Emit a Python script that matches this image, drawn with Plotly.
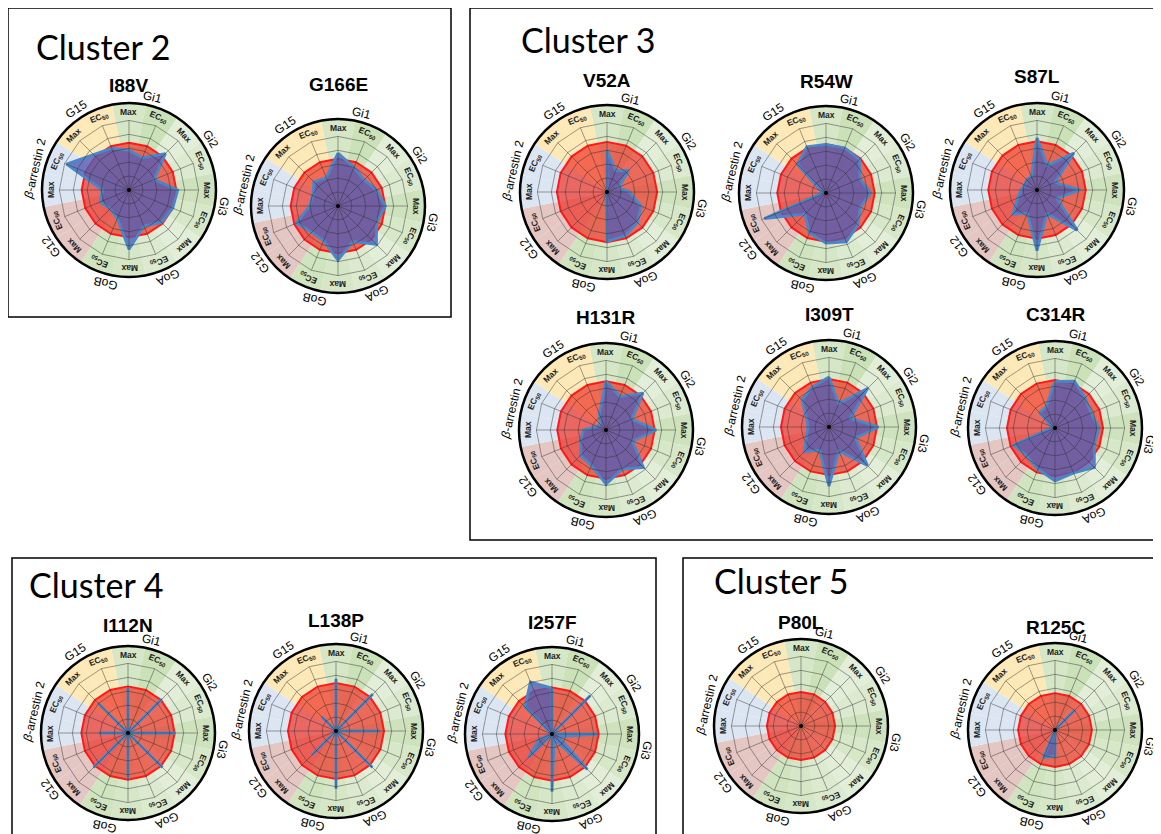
import math
import plotly.graph_objects as go

# page body keeps an 8 px margin, so the figure is shifted by OFF
OFF = 8
W, H = 1161 - OFF, 834 - OFF

# spoke order, clockwise from 12 o'clock
spoke_labels = ["Max", "EC<sub>50</sub>"] * 8
receptors = ["Gi1", "Gi2", "Gi3", "GoA", "GoB", "G12", "<i>β</i>-arrestin 2", "G15"]

mutants = ["I88V", "G166E", "V52A", "R54W", "S87L", "H131R", "I309T", "C314R",
           "I112N", "L138P", "I257F", "P80L", "R125C"]

# WT reference level (red polygon) per panel
wt_level = [68, 68, 72, 70, 70, 70, 69, 69, 67, 69, 67, 49, 53]

# mutant values per spoke (Gi1 Max, Gi1 EC50, Gi2 Max, ... G15 EC50)
I88V = [57, 50, 74, 39, 70, 68, 66, 56, 85, 44, 38, 45, 38, 97, 72, 65]
G166E = [76, 60, 53, 60, 68, 60, 78, 55, 78, 54, 53, 65, 41, 39, 49, 44]
V52A = [60, 33, 44, 18, 32, 53, 62, 68, 71, 4, 0, 0, 0, 0, 0, 0]
R54W = [70, 70, 68, 53, 64, 53, 65, 76, 72, 62, 43, 96, 5, 8, 58, 72]
S87L = [75, 38, 75, 28, 62, 31, 82, 37, 87, 36, 49, 30, 23, 19, 21, 21]
H131R = [70, 52, 75, 40, 72, 41, 76, 61, 78, 55, 52, 40, 32, 14, 12, 25]
I309T = [72, 36, 79, 33, 71, 41, 78, 37, 85, 36, 50, 35, 30, 35, 55, 62]
C314R = [67, 73, 61, 56, 63, 61, 80, 70, 76, 64, 57, 64, 5, 5, 31, 33]
I112N = [65, 0, 69, 0, 68, 0, 70, 0, 66, 0, 70, 0, 42, 0, 61, 0]
L138P = [75, 0, 75, 0, 63, 0, 74, 0, 83, 0, 49, 0, 0, 0, 29, 0]
I257F = [66, 0, 78, 0, 65, 10, 72, 8, 83, 0, 48, 20, 0, 0, 55, 81]
P80L = [0] * 16
R125C = [0, 0, 40, 0, 0, 0, 0, 0, 37, 43, 0, 0, 0, 0, 0, 0]

mutant_values = [I88V, G166E, V52A, R54W, S87L, H131R, I309T, C314R,
                 I112N, L138P, I257F, P80L, R125C]

ring_levels = [20, 40, 60, 80, 100]

# ---- layout: panel centre x, centre y, title y (page px)
centers = {
    "I88V": (129, 190, 86), "G166E": (338, 206, 85),
    "V52A": (607, 192, 80), "R54W": (826, 193, 81), "S87L": (1037, 190, 77),
    "H131R": (606, 430, 318), "I309T": (829, 427, 314), "C314R": (1055, 428, 314),
    "I112N": (128, 733, 625), "L138P": (336, 731, 620), "I257F": (552, 734, 622),
    "P80L": (801, 726, 622), "R125C": (1055, 730, 627),
}

clusters = [
    ("Cluster 2", 8, 8, 451, 317, 34, 46),
    ("Cluster 3", 470, 8, 1160, 540, 519, 39),
    ("Cluster 4", 12, 558, 656, 850, 27, 584),
    ("Cluster 5", 683, 558, 1160, 850, 712, 580),
]

wedge_colors = ["#d5e7c6", "#cbe1b8", "#e3eed9", "#dcead0", "#cee3bd", "#d7e8c8",
                "#e3eed9", "#dcead0", "#d5e7c6", "#cfe4bf", "#e4c6c3", "#e4c6c3",
                "#dce6f2", "#dce6f2", "#fde9b7", "#fde9b7"]
receptor_angles = [14, 58, 100, 156, 194, 234, 283, 327]

R_PX = 87
R_MAX = 125
LBL_IN = 78
LBL_OUT = 96
FONT = "Liberation Sans, Arial, sans-serif"

angles = [i * 22.5 for i in range(16)]
closed = angles + [360]


def px_to_paper(x, y):
    return (x - OFF) / W, 1 - (y - OFF) / H


def tangent_angle(a):
    return a if a <= 180 else a - 360


fig = go.Figure()
annotations = []
layout_polars = {}

for k, name in enumerate(mutants):
    cx, cy, ty = centers[name]
    sub = "polar" if k == 0 else f"polar{k + 1}"
    vals = mutant_values[k]

    fig.add_trace(go.Barpolar(r=[R_MAX] * 16, theta=angles, width=[22.5] * 16,
                              marker=dict(color=wedge_colors, line=dict(width=0)),
                              subplot=sub, hoverinfo="skip", showlegend=False))

    fig.add_trace(go.Scatterpolar(r=[wt_level[k]] * 17, theta=closed, mode="lines",
                                  fill="toself", fillcolor="rgba(240,50,38,0.70)",
                                  line=dict(color="#ff1a1a", width=2),
                                  subplot=sub, hoverinfo="skip", showlegend=False))

    if any(vals):
        fig.add_trace(go.Scatterpolar(r=vals + [vals[0]], theta=closed, mode="lines",
                                      fill="toself", fillcolor="rgba(82,92,180,0.80)",
                                      line=dict(color="#4a86c8", width=2.8),
                                      subplot=sub, name=name, showlegend=False))

    # grid rings and spokes on top
    ring_r, ring_t = [], []
    for lev in ring_levels:
        ring_r += [lev] * 17 + [None]
        ring_t += closed + [None]
    spoke_r, spoke_t = [], []
    for a in angles:
        spoke_r += [0, ring_levels[-1], None]
        spoke_t += [a, a, None]
    fig.add_trace(go.Scatterpolar(r=ring_r + spoke_r, theta=ring_t + spoke_t, mode="lines",
                                  line=dict(color="rgba(45,45,45,0.5)", width=0.9),
                                  subplot=sub, hoverinfo="skip", showlegend=False))
    fig.add_trace(go.Scatterpolar(r=[0], theta=[0], mode="markers",
                                  marker=dict(color="black", size=4),
                                  subplot=sub, hoverinfo="skip", showlegend=False))

    x0, y1 = px_to_paper(cx - R_PX, cy - R_PX)
    x1, y0 = px_to_paper(cx + R_PX, cy + R_PX)
    layout_polars[sub] = dict(
        domain=dict(x=[x0, x1], y=[y0, y1]),
        bgcolor="white", bargap=0, hole=0,
        radialaxis=dict(visible=False, range=[0, R_MAX]),
        angularaxis=dict(rotation=90, direction="clockwise", showgrid=False,
                         showticklabels=False, ticks="", showline=True,
                         linecolor="black", linewidth=2.5),
    )

    # title
    tx, tyy = px_to_paper(cx, ty)
    annotations.append(dict(x=tx, y=tyy, xref="paper", yref="paper", text="<b>%s</b>" % name,
                            showarrow=False, font=dict(family=FONT, size=19, color="black"),
                            xanchor="center", yanchor="middle"))
    # spoke labels
    for a, lab in zip(angles, spoke_labels):
        rad = math.radians(a)
        lx, ly = px_to_paper(cx + LBL_IN * math.sin(rad), cy - LBL_IN * math.cos(rad))
        annotations.append(dict(x=lx, y=ly, xref="paper", yref="paper", text="<b>%s</b>" % lab,
                                showarrow=False, textangle=tangent_angle(a),
                                font=dict(family=FONT, size=8.5, color="#222222"),
                                xanchor="center", yanchor="middle"))
    # receptor labels
    for a, lab in zip(receptor_angles, receptors):
        rad = math.radians(a)
        lx, ly = px_to_paper(cx + LBL_OUT * math.sin(rad), cy - LBL_OUT * math.cos(rad))
        annotations.append(dict(x=lx, y=ly, xref="paper", yref="paper", text=lab,
                                showarrow=False, textangle=tangent_angle(a),
                                font=dict(family=FONT, size=12, color="black"),
                                xanchor="center", yanchor="middle"))

shapes = []
for title, bx0, by0, bx1, by1, tx, ty in clusters:
    px0, py1 = px_to_paper(bx0, by0)
    px1, py0 = px_to_paper(bx1, by1)
    shapes.append(dict(type="rect", xref="paper", yref="paper", x0=px0, x1=px1, y0=py0, y1=py1,
                       line=dict(color="black", width=1.5), fillcolor="rgba(0,0,0,0)", layer="above"))
    ax, ay = px_to_paper(tx, ty)
    annotations.append(dict(x=ax, y=ay, xref="paper", yref="paper", text=title, showarrow=False,
                            font=dict(family="Lato, Open Sans, sans-serif", size=34, color="black"),
                            xanchor="left", yanchor="middle"))

fig.update_layout(
    width=W, height=H, margin=dict(l=0, r=0, t=0, b=0),
    paper_bgcolor="white", plot_bgcolor="white",
    showlegend=False, annotations=annotations, shapes=shapes,
    **layout_polars,
)

fig.write_html("out.html")
